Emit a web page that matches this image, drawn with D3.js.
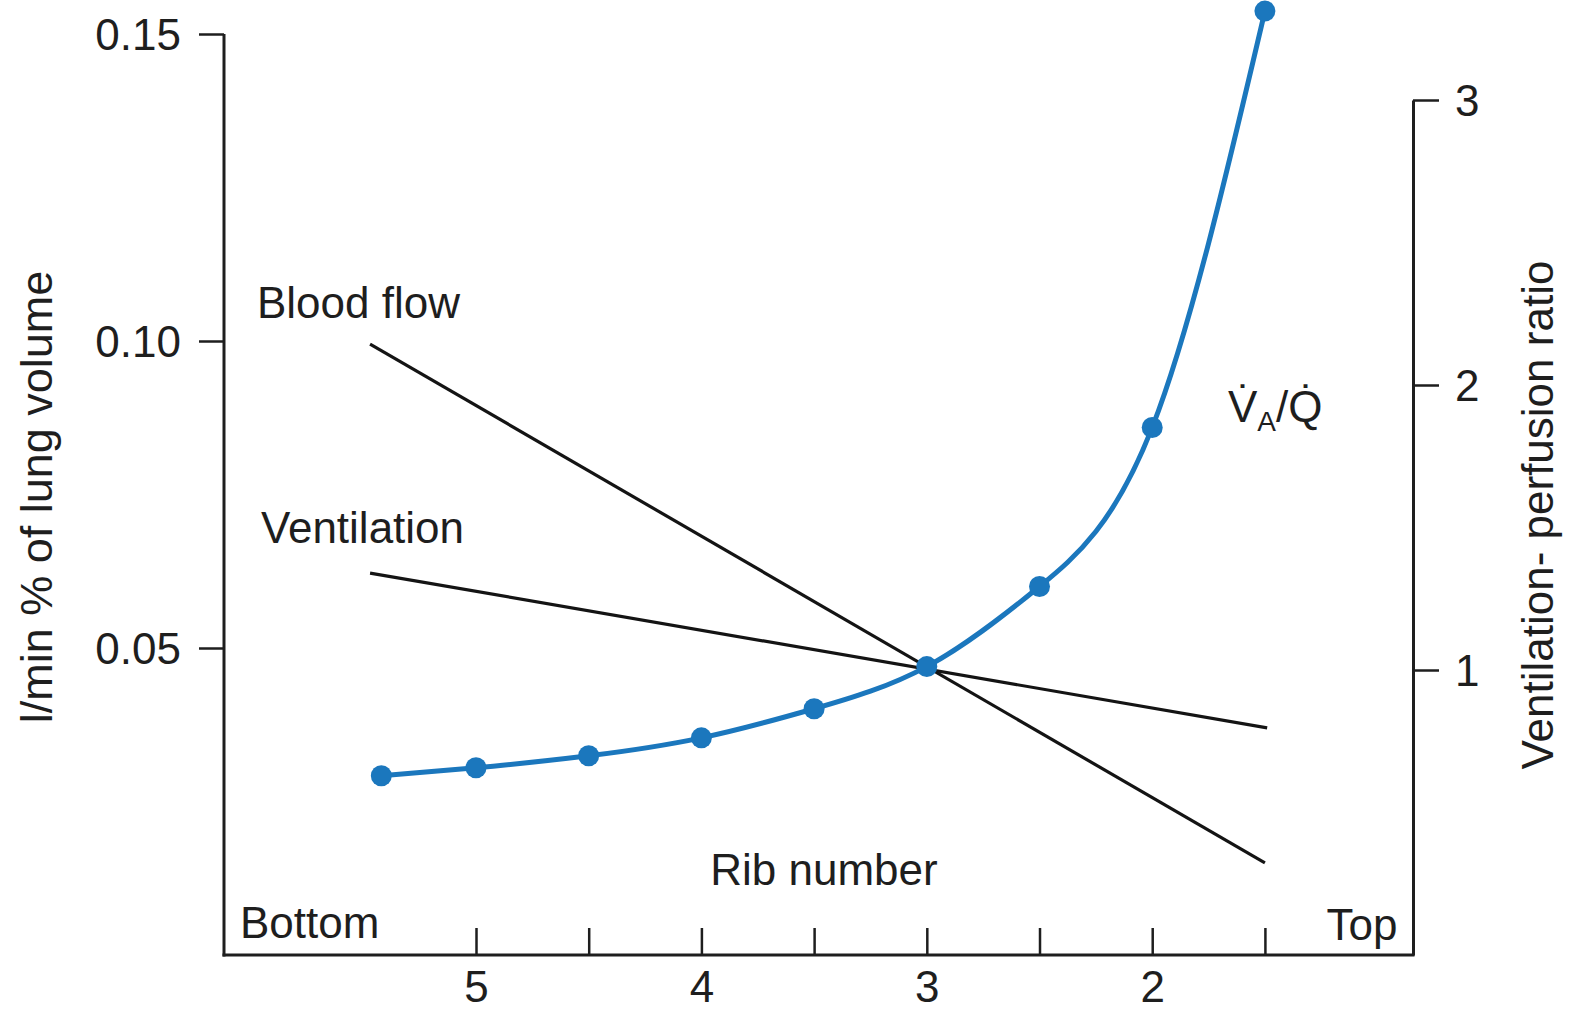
<!DOCTYPE html>
<html>
<head>
<meta charset="utf-8">
<script src="https://cdn.jsdelivr.net/npm/d3@7"></script>
<style>
  html, body { margin: 0; padding: 0; background: #fff; }
  svg { display: block; }
  text { font-family: "Liberation Sans", Arial, Helvetica, sans-serif; fill: #1e1e1e; }
</style>
</head>
<body>
<svg id="chart" width="1569" height="1013"></svg>
<script>
// ---- data ----
const ribTicks = [5, 4.5, 4, 3.5, 3, 2.5, 2, 1.5];
const ribLabels = [5, 4, 3, 2];
const leftTicks = [0.05, 0.10, 0.15];
const rightTicks = [1, 2, 3];

const bloodFlowRib = [5.47, 1.5];
const bloodFlowVal = [0.0995, 0.0150];
const ventilationRib = [5.47, 1.49];
const ventilationVal = [0.0622, 0.0370];

const vaqRib = [5.42, 5.0, 4.5, 4.0, 3.5, 3.0, 2.5, 2.0, 1.5];
const vaqVal = [0.629, 0.657, 0.699, 0.762, 0.864, 1.012, 1.293, 1.851, 3.312];

// ---- layout ----
const svg = d3.select("#chart");
const x = d3.scaleLinear().domain([6.118, 0.843]).range([224, 1413]);
const yL = d3.scaleLinear().domain([0, 0.15]).range([955, 34]);
const yR = d3.scaleLinear().domain([0, 3]).range([955, 100]);

const FS = 44;
const ink = "#1e1e1e";
const blue = "#1b77bd";

// left axis
const gL = svg.append("g").attr("transform", "translate(224,0)")
  .call(d3.axisLeft(yL).tickValues(leftTicks).tickFormat(d3.format(".2f")).tickSize(25).tickSizeOuter(0).tickPadding(18));
// right axis
const gR = svg.append("g").attr("transform", "translate(1413,0)")
  .call(d3.axisRight(yR).tickValues(rightTicks).tickFormat(d3.format("d")).tickSize(26).tickSizeOuter(0).tickPadding(16));
// bottom axis
const gB = svg.append("g").attr("transform", "translate(0,955)")
  .call(d3.axisBottom(x).tickValues(ribTicks).tickFormat(d => ribLabels.includes(d) ? d3.format("d")(d) : "").tickSize(-27).tickSizeOuter(0));

[gL, gR, gB].forEach(g => {
  g.selectAll("path.domain").attr("stroke", ink).attr("stroke-width", 3);
  g.selectAll(".tick line").attr("stroke", ink).attr("stroke-width", 2.5);
  g.selectAll(".tick text").attr("font-size", FS).attr("font-family", "Liberation Sans, Arial, sans-serif").attr("fill", ink);
});
gL.select("path.domain").attr("d", `M0,${yL(0)+1.5}V${yL(0.15)}`);
gB.select("path.domain").attr("d", `M${x.range()[0]-1.5},0H${x.range()[1]+1.5}`);
gB.selectAll(".tick text").attr("y", 47).attr("dy", 0);
gL.selectAll(".tick text").attr("dy", "0.36em");
gR.selectAll(".tick text").attr("dy", "0.36em");

// black lines
const lineL = d3.line().x(d => x(d[0])).y(d => yL(d[1]));
svg.append("path").datum(d3.zip(bloodFlowRib, bloodFlowVal))
  .attr("d", lineL).attr("fill", "none").attr("stroke", "#141414").attr("stroke-width", 3.2);
svg.append("path").datum(d3.zip(ventilationRib, ventilationVal))
  .attr("d", lineL).attr("fill", "none").attr("stroke", "#141414").attr("stroke-width", 3.2);

// VA/Q curve
const vaq = d3.zip(vaqRib, vaqVal);
const lineR = d3.line().x(d => x(d[0])).y(d => yR(d[1])).curve(d3.curveNatural);
svg.append("path").datum(vaq).attr("d", lineR)
  .attr("fill", "none").attr("stroke", blue).attr("stroke-width", 5);
svg.append("g").selectAll("circle").data(vaq).join("circle")
  .attr("cx", d => x(d[0])).attr("cy", d => yR(d[1])).attr("r", 10.5).attr("fill", blue);

// labels
const label = (t, px, py, anchor = "start") =>
  svg.append("text").attr("x", px).attr("y", py).attr("font-size", FS).attr("text-anchor", anchor).text(t);
label("Blood flow", 257, 318);
label("Ventilation", 261, 543);
label("Rib number", 824, 885, "middle");
label("Bottom", 240, 938);
label("Top", 1362, 940, "middle");

// VA/Q label
const vq = svg.append("text").attr("x", 1228).attr("y", 422).attr("font-size", FS);
vq.append("tspan").text("V\u0307");
vq.append("tspan").attr("font-size", 28).attr("dy", 9).text("A");
vq.append("tspan").attr("dy", -9).text("/Q\u0307");

// axis titles
svg.append("text").attr("transform", "translate(52,497) rotate(-90)")
  .attr("text-anchor", "middle").attr("font-size", 45).text("l/min % of lung volume");
svg.append("text").attr("transform", "translate(1553,515) rotate(-90)")
  .attr("text-anchor", "middle").attr("font-size", FS).text("Ventilation- perfusion ratio");
</script>
</body>
</html>
